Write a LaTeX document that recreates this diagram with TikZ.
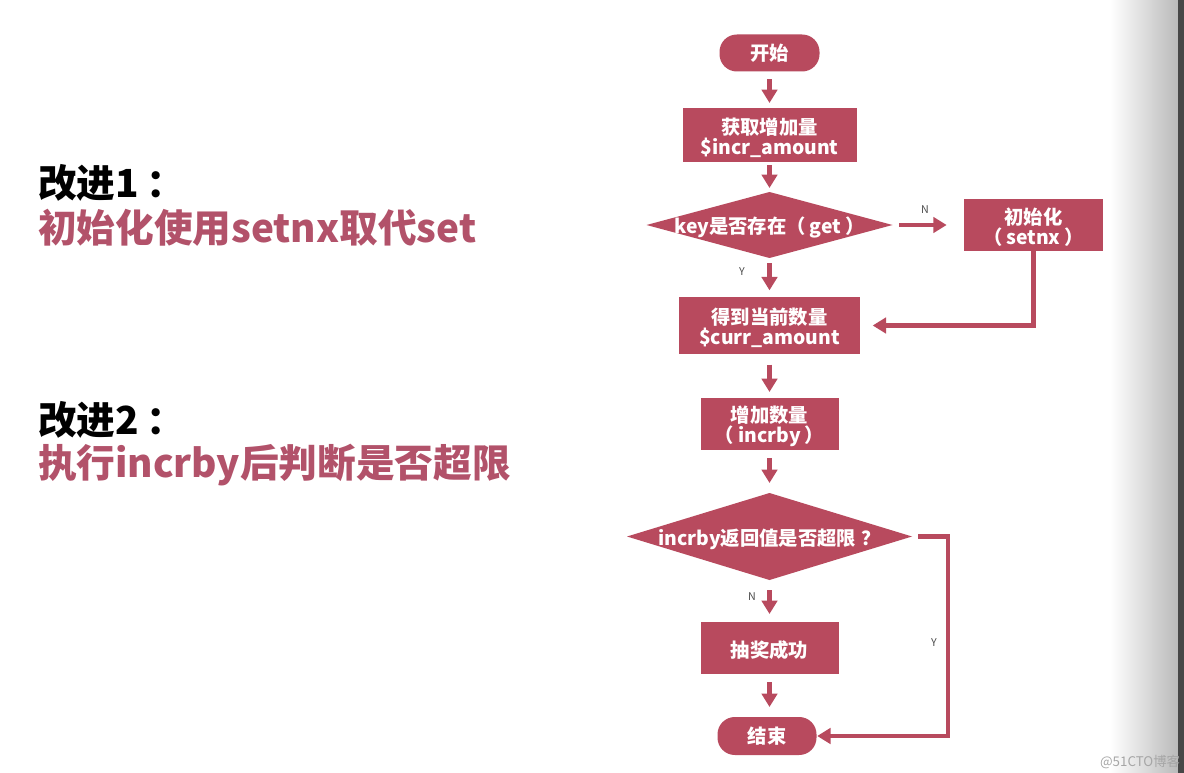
\documentclass[tikz,border=0pt]{standalone}
\usepackage{fontspec}
\setmainfont{Noto Sans CJK SC}
\usetikzlibrary{arrows.meta,shapes.geometric}
\definecolor{boxred}{HTML}{B84A5E}
\definecolor{txtred}{HTML}{B2526A}
\newcommand\dnstrut{\rule{0pt}{16.3pt}}
\begin{document}
\begin{tikzpicture}[x=0.75pt,y=-0.75pt,
  every node/.style={inner sep=0pt, outer sep=0pt, align=center},
  fc/.style={text=white, font=\bfseries\fontsize{14.5}{15}\selectfont},
  procbox/.style={fc, fill=boxred, rectangle},
  terminal/.style={fc, fill=boxred, rectangle, rounded corners=13pt},
  decision/.style={fc, fill=boxred, diamond},
  flow/.style={draw=boxred, line width=3.2pt, -{Triangle[width=11.5pt,length=10pt]}},
  lbl/.style={text=black!70, font=\fontsize{8}{9}\selectfont},
  heading/.style={anchor=west, text=black, font=\bfseries\fontsize{29}{32}\selectfont},
  subheading/.style={heading, text=txtred}]
\useasboundingbox (0,0) rectangle (1184,773);
\fill[white] (0,0) rectangle (1184,773);
\shade[left color=white, right color=black!27] (1110,0) rectangle (1178,773);
\fill[black!72] (1178,0) rectangle (1184,773);

% left texts
\node[heading] (h1) at (38,183) {改进1\hspace{6pt}：};
\node[subheading] (s1) at (38,228) {初始化使用setnx取代set};
\node[heading] (h2) at (38,420) {改进2\hspace{6pt}：};
\node[subheading] (s2) at (38,465) {执行incrby后判断是否超限};

% flowchart nodes
\node[terminal, minimum width=75pt, minimum height=27.75pt] (start) at (769.5,53) {开始};
\node[procbox, minimum width=130.5pt, minimum height=40.5pt] (b1) at (769.5,135) {\dnstrut 获取增加量\\\$incr\_amount};
\node[decision, minimum width=184.5pt, minimum height=49.5pt] (d1) at (769.5,225) {\makebox[0pt]{\dnstrut key是否存在（\hspace{3pt}get\hspace{3pt}）}};
\node[procbox, minimum width=104.25pt, minimum height=39pt] (init) at (1033.5,225) {\dnstrut 初始化\\（\hspace{3pt}setnx\hspace{3pt}）};
\node[procbox, minimum width=135.75pt, minimum height=42.75pt] (b2) at (769.5,325.5) {\dnstrut 得到当前数量\\\$curr\_amount};
\node[procbox, minimum width=103.5pt, minimum height=39pt] (b3) at (769.5,424) {\dnstrut 增加数量\\（\hspace{3pt}incrby\hspace{3pt}）};
\node[decision, minimum width=213.75pt, minimum height=65.25pt] (d2) at (769.5,536.5) {\makebox[0pt]{\dnstrut incrby返回值是否超限\hspace{4pt}？}};
\node[procbox, minimum width=103.5pt, minimum height=39pt] (b4) at (769.5,648) {\dnstrut 抽奖成功};
\node[terminal, minimum width=74.25pt, minimum height=28.5pt] (end) at (767,736) {结束};
\coordinate (yc) at (948,536.5);

% connectors
\draw[flow, shorten <=6pt, shorten >=3.75pt] (start) -- (b1);
\draw[flow, shorten <=2.5pt, shorten >=3pt] (b1) -- (d1);
\draw[flow, shorten <=4pt, shorten >=5pt] (d1) -- (b2);
\draw[flow, shorten <=8pt, shorten >=4.5pt] (b2) -- (b3);
\draw[flow, shorten <=6pt, shorten >=7.5pt] (b3) -- (d2);
\draw[flow, shorten <=7.5pt, shorten >=6pt] (d2) -- (b4);
\draw[flow, shorten <=6pt, shorten >=7.5pt] (b4.south) -- (b4.south |- end.north);
\draw[flow, shorten <=5pt, shorten >=13pt] (d1.east) -- (init.west);
\draw[flow, shorten >=9.5pt] (init.south) |- (b2.east);
\draw[flow, shorten <=4.5pt, shorten >=0.5pt, line join=miter] (d2.east) -- (yc) |- (end.east);

% labels
\node[lbl] (ln1) at (925,210) {N};
\node[lbl] (ly1) at (742,272) {Y};
\node[lbl] (ln2) at (752,597) {N};
\node[lbl] (ly2) at (934,643) {Y};

\node[text=black!35, font=\fontsize{10}{11}\selectfont] (wm) at (1140,762) {@51CTO博客};
\end{tikzpicture}
\end{document}
